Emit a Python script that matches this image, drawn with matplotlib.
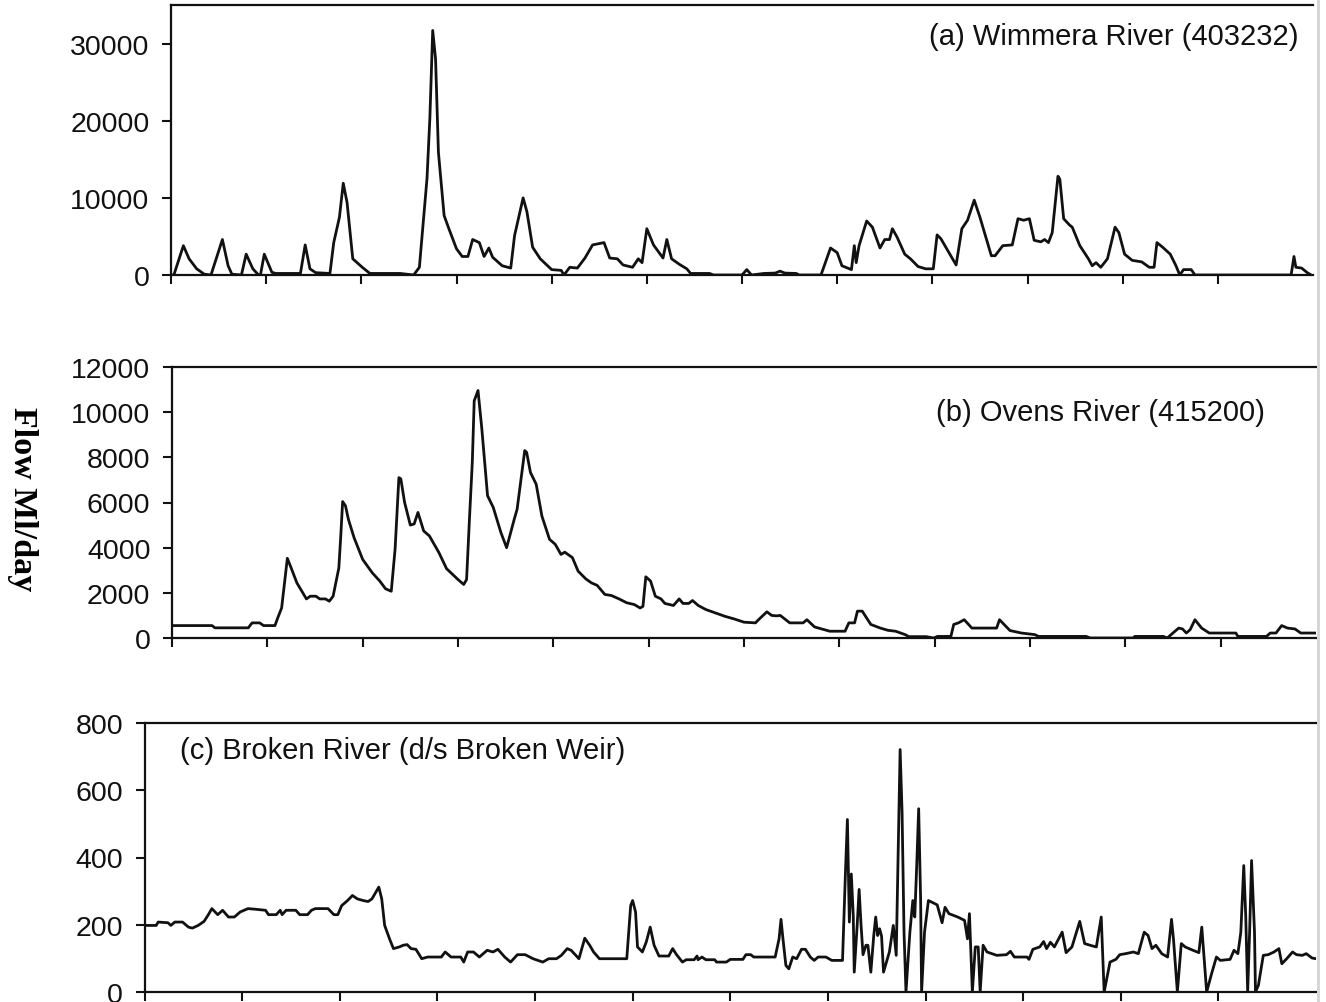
import matplotlib
matplotlib.use("Agg")
import matplotlib.pyplot as plt
from matplotlib.lines import Line2D

# x = position along the record (one unit per tick interval), y = flow in Ml/day
wimmera = [
    (0.00, 0), (0.03, 0), (0.13, 3800), (0.19, 2100), (0.27, 800), (0.35, 100), (0.42, 0),
    (0.54, 4600), (0.60, 1200), (0.64, 100), (0.74, 0), (0.79, 2700), (0.86, 800), (0.92, 0),
    (0.94, 0), (0.98, 2700), (1.06, 350), (1.10, 200), (1.36, 200), (1.41, 3900), (1.46, 800),
    (1.52, 300), (1.67, 200), (1.71, 4200), (1.77, 7500), (1.81, 11900), (1.85, 9400),
    (1.91, 2100), (2.01, 1000), (2.09, 200), (2.41, 200), (2.55, 0), (2.61, 1000),
    (2.69, 12500), (2.72, 20300), (2.75, 31700), (2.78, 28000), (2.81, 15900), (2.87, 7700),
    (2.92, 6000), (3.00, 3400), (3.06, 2400), (3.12, 2400), (3.17, 4600), (3.24, 4200),
    (3.29, 2400), (3.34, 3500), (3.38, 2300), (3.48, 1200), (3.57, 900), (3.61, 5100),
    (3.70, 10000), (3.74, 8200), (3.80, 3600), (3.88, 2100), (4.00, 700), (4.10, 600),
    (4.13, 0), (4.19, 1000), (4.27, 900), (4.35, 2200), (4.43, 3900), (4.55, 4200),
    (4.61, 2200), (4.69, 2100), (4.75, 1300), (4.85, 1000), (4.91, 2100), (4.95, 1600),
    (5.00, 6000), (5.07, 3900), (5.17, 2200), (5.21, 4600), (5.26, 2100), (5.34, 1400),
    (5.42, 800), (5.46, 200), (5.66, 200), (5.70, 0), (6.00, 0), (6.05, 700), (6.10, 0),
    (6.23, 200), (6.35, 250), (6.40, 500), (6.45, 250), (6.57, 200), (6.60, 0), (6.83, 0),
    (6.93, 3500), (7.00, 2900), (7.05, 1200), (7.15, 700), (7.18, 3800), (7.20, 1600),
    (7.23, 3800), (7.31, 7000), (7.37, 6200), (7.45, 3500), (7.50, 4600), (7.55, 4600),
    (7.58, 6000), (7.63, 4900), (7.71, 2700), (7.77, 2100), (7.85, 1100), (7.93, 800),
    (8.01, 800), (8.05, 5200), (8.09, 4700), (8.25, 1300), (8.31, 6000), (8.37, 7100),
    (8.44, 9700), (8.50, 7500), (8.62, 2500), (8.66, 2500), (8.74, 3800), (8.84, 3900),
    (8.90, 7300), (8.96, 7100), (9.02, 7300), (9.07, 4500), (9.14, 4300), (9.18, 4600),
    (9.22, 4200), (9.26, 5500), (9.32, 12800), (9.34, 12400), (9.38, 7300), (9.44, 6500),
    (9.47, 6200), (9.55, 3800), (9.64, 2100), (9.68, 1200), (9.72, 1600), (9.77, 1000),
    (9.84, 2100), (9.92, 6200), (9.96, 5500), (10.02, 2700), (10.10, 1900), (10.20, 1700),
    (10.28, 1000), (10.33, 1000), (10.36, 4200), (10.42, 3600), (10.50, 2700), (10.56, 1200),
    (10.60, 0), (10.64, 700), (10.72, 700), (10.76, 0), (11.77, 0), (11.80, 2400),
    (11.82, 1000), (11.88, 900), (11.94, 300), (11.98, 0),
]

ovens = [
    (0.00, 550), (0.42, 550), (0.45, 450), (0.80, 450), (0.84, 670), (0.92, 670), (0.96, 550),
    (1.08, 550), (1.11, 900), (1.15, 1330), (1.18, 2440), (1.21, 3530), (1.25, 3100),
    (1.31, 2440), (1.41, 1730), (1.45, 1850), (1.51, 1850), (1.55, 1730), (1.61, 1730),
    (1.65, 1630), (1.69, 1850), (1.75, 3100), (1.77, 4500), (1.79, 6040), (1.82, 5850),
    (1.85, 5260), (1.91, 4440), (2.00, 3480), (2.10, 2890), (2.18, 2520), (2.24, 2180),
    (2.30, 2070), (2.34, 3930), (2.38, 7100), (2.40, 7050), (2.44, 6000), (2.50, 5000),
    (2.54, 5050), (2.58, 5560), (2.64, 4740), (2.70, 4520), (2.80, 3780), (2.88, 3070),
    (3.00, 2590), (3.06, 2370), (3.09, 2590), (3.12, 5260), (3.15, 7780), (3.17, 10500),
    (3.21, 10960), (3.25, 9260), (3.31, 6300), (3.37, 5780), (3.45, 4670), (3.51, 4000),
    (3.59, 5260), (3.62, 5700), (3.70, 8300), (3.72, 8220), (3.76, 7330), (3.82, 6810),
    (3.88, 5400), (3.96, 4370), (4.02, 4150), (4.08, 3700), (4.12, 3800), (4.20, 3560),
    (4.26, 2960), (4.34, 2620), (4.40, 2440), (4.46, 2330), (4.54, 1930), (4.61, 1880),
    (4.69, 1730), (4.77, 1560), (4.85, 1480), (4.91, 1330), (4.94, 1400), (4.97, 2710),
    (5.02, 2520), (5.07, 1850), (5.13, 1730), (5.17, 1530), (5.26, 1440), (5.32, 1730),
    (5.36, 1530), (5.42, 1530), (5.46, 1660), (5.52, 1440), (5.60, 1260), (5.70, 1110),
    (5.80, 960), (5.90, 840), (6.00, 700), (6.12, 670), (6.16, 840), (6.24, 1160),
    (6.29, 1000), (6.34, 980), (6.38, 1000), (6.48, 670), (6.62, 670), (6.66, 810),
    (6.74, 490), (6.90, 300), (7.06, 300), (7.10, 670), (7.16, 670), (7.19, 1190),
    (7.24, 1190), (7.33, 600), (7.43, 440), (7.51, 340), (7.59, 300), (7.69, 150),
    (7.73, 60), (7.91, 60), (7.99, 0), (8.03, 70), (8.17, 70), (8.20, 600), (8.25, 670),
    (8.31, 810), (8.39, 440), (8.47, 440), (8.65, 440), (8.68, 810), (8.79, 330),
    (8.91, 220), (9.05, 150), (9.09, 70), (9.59, 70), (9.63, 0), (10.08, 0), (10.10, 70),
    (10.40, 70), (10.44, 0), (10.48, 150), (10.56, 440), (10.60, 400), (10.64, 220),
    (10.68, 370), (10.73, 810), (10.80, 440), (10.88, 220), (11.16, 220), (11.18, 70),
    (11.48, 70), (11.52, 220), (11.58, 220), (11.64, 550), (11.70, 440), (11.78, 400),
    (11.84, 220), (12.00, 220),
]

broken = [
    (0.00, 198), (0.12, 198), (0.14, 208), (0.24, 206), (0.27, 198), (0.31, 208), (0.39, 208),
    (0.45, 193), (0.49, 190), (0.55, 198), (0.61, 210), (0.65, 228), (0.69, 248), (0.75, 230),
    (0.80, 243), (0.86, 223), (0.92, 223), (0.98, 238), (1.06, 248), (1.14, 246), (1.24, 243),
    (1.27, 230), (1.35, 230), (1.39, 243), (1.41, 230), (1.45, 243), (1.55, 243), (1.59, 230),
    (1.67, 230), (1.71, 243), (1.75, 248), (1.88, 248), (1.94, 230), (1.98, 230), (2.02, 257),
    (2.08, 272), (2.13, 287), (2.18, 277), (2.24, 272), (2.29, 269), (2.33, 277), (2.36, 292),
    (2.40, 312), (2.43, 277), (2.46, 198), (2.51, 158), (2.55, 129), (2.61, 134), (2.65, 139),
    (2.69, 141), (2.73, 129), (2.78, 127), (2.84, 99), (2.90, 104), (3.04, 104), (3.08, 119),
    (3.14, 104), (3.24, 104), (3.27, 89), (3.31, 119), (3.37, 119), (3.43, 104), (3.51, 124),
    (3.57, 119), (3.62, 127), (3.69, 104), (3.75, 89), (3.82, 111), (3.90, 111), (3.98, 99),
    (4.08, 89), (4.14, 99), (4.22, 99), (4.27, 109), (4.33, 129), (4.37, 124), (4.45, 99),
    (4.51, 160), (4.56, 139), (4.60, 119), (4.66, 99), (4.94, 99), (4.98, 257), (5.00, 272),
    (5.03, 238), (5.05, 134), (5.10, 119), (5.14, 149), (5.18, 193), (5.22, 139), (5.27, 107),
    (5.37, 107), (5.41, 129), (5.45, 111), (5.51, 89), (5.55, 96), (5.63, 96), (5.66, 107),
    (5.67, 96), (5.71, 104), (5.75, 96), (5.84, 96), (5.86, 89), (5.96, 89), (6.00, 97),
    (6.13, 97), (6.16, 111), (6.21, 111), (6.24, 104), (6.46, 104), (6.50, 158), (6.52, 216),
    (6.54, 158), (6.57, 79), (6.60, 69), (6.64, 104), (6.68, 99), (6.73, 127), (6.77, 127),
    (6.82, 104), (6.86, 94), (6.90, 104), (6.98, 104), (7.04, 94), (7.15, 94), (7.18, 356),
    (7.20, 513), (7.21, 356), (7.22, 208), (7.24, 351), (7.26, 228), (7.27, 59), (7.30, 198),
    (7.32, 305), (7.34, 198), (7.36, 111), (7.39, 139), (7.41, 139), (7.44, 59), (7.47, 168),
    (7.49, 223), (7.51, 168), (7.53, 188), (7.55, 166), (7.57, 59), (7.63, 119), (7.67, 198),
    (7.70, 109), (7.72, 416), (7.74, 721), (7.76, 535), (7.78, 178), (7.80, 0), (7.84, 178),
    (7.87, 272), (7.89, 223), (7.91, 376), (7.93, 545), (7.95, 277), (7.96, 0), (7.99, 178),
    (8.03, 272), (8.08, 265), (8.12, 259), (8.17, 206), (8.20, 252), (8.24, 233), (8.33, 223),
    (8.40, 213), (8.43, 158), (8.45, 233), (8.48, 0), (8.51, 134), (8.54, 134), (8.56, 0),
    (8.59, 139), (8.63, 119), (8.73, 109), (8.83, 111), (8.87, 121), (8.91, 104), (9.04, 104),
    (9.06, 97), (9.10, 127), (9.17, 134), (9.21, 150), (9.24, 129), (9.28, 148), (9.32, 134),
    (9.40, 178), (9.44, 117), (9.50, 134), (9.58, 210), (9.63, 144), (9.71, 137), (9.75, 134),
    (9.80, 223), (9.83, 0), (9.89, 89), (9.95, 97), (9.99, 111), (10.05, 114), (10.13, 119),
    (10.18, 114), (10.24, 178), (10.28, 168), (10.32, 129), (10.36, 139), (10.42, 114),
    (10.48, 104), (10.52, 216), (10.54, 158), (10.58, 0), (10.62, 144), (10.66, 134),
    (10.74, 124), (10.80, 117), (10.83, 193), (10.88, 0), (10.93, 54), (10.98, 104),
    (11.02, 94), (11.12, 97), (11.16, 124), (11.20, 114), (11.23, 178), (11.26, 376),
    (11.28, 228), (11.30, 0), (11.32, 178), (11.34, 391), (11.37, 178), (11.38, 0),
    (11.41, 20), (11.46, 109), (11.51, 111), (11.57, 119), (11.62, 129), (11.65, 84),
    (11.70, 99), (11.76, 119), (11.80, 111), (11.86, 109), (11.90, 114), (11.96, 101),
    (12.00, 99),
]

titles = ["(a) Wimmera River (403232)", "(b) Ovens River (415200)",
          "(c) Broken River (d/s Broken Weir)"]
yticks = [[0, 10000, 20000, 30000], list(range(0, 12001, 2000)), list(range(0, 801, 200))]
ylims = [35000, 12000, 800]
series = [wimmera, ovens, broken]

W, H = 1326, 1003
# axes boxes in pixels: left, top, right, bottom
boxes = [(171, 6, 1313, 276), (172, 368, 1316, 639), (144.5, 724, 1316, 993)]

fig = plt.figure(figsize=(W / 100, H / 100), dpi=100)
plt.rcParams['font.family'] = ['Liberation Sans', 'DejaVu Sans']

for i in range(3):
    l, t, r, b = boxes[i]
    ax = fig.add_axes([l / W, 1 - b / H, (r - l) / W, (b - t) / H])
    xs = [p[0] for p in series[i]]
    ys = [p[1] for p in series[i]]
    ax.plot(xs, ys, color='#111111', lw=2.0, solid_joinstyle='round')

    ax.set_xlim(0, 12)
    ax.set_ylim(0, ylims[i])
    ax.set_xticks(range(12))
    ax.set_xticklabels([])
    ax.set_yticks(yticks[i])
    ax.set_yticklabels([str(v) for v in yticks[i]])
    ax.tick_params(direction='out', length=6.5, width=1.5, labelsize=20.5, pad=9,
                   colors='#111111')

    for side in ['left', 'top', 'bottom']:
        ax.spines[side].set_linewidth(1.6)
        ax.spines[side].set_color('#111111')
    ax.spines['right'].set_visible(False)

# panel labels
fig.axes[0].text(0.987, 0.885, titles[0], transform=fig.axes[0].transAxes,
                 ha='right', va='center', fontsize=21, color='#111111')
fig.axes[1].text(0.955, 0.835, titles[1], transform=fig.axes[1].transAxes,
                 ha='right', va='center', fontsize=21, color='#111111')
fig.axes[2].text(0.03, 0.9, titles[2], transform=fig.axes[2].transAxes,
                 ha='left', va='center', fontsize=21, color='#111111')

fig.text(22 / W, 1 - 499 / H, "Flow Ml/day", rotation=-90, ha='center', va='center',
         fontsize=24.5, fontweight='bold', family='Liberation Serif')

# light grey edge line on the right, as in the scanned page
fig.add_artist(Line2D([1318 / W, 1318 / W], [0, 1], color='#d4d4d4', lw=2))

fig.savefig("out.png", dpi=100)
